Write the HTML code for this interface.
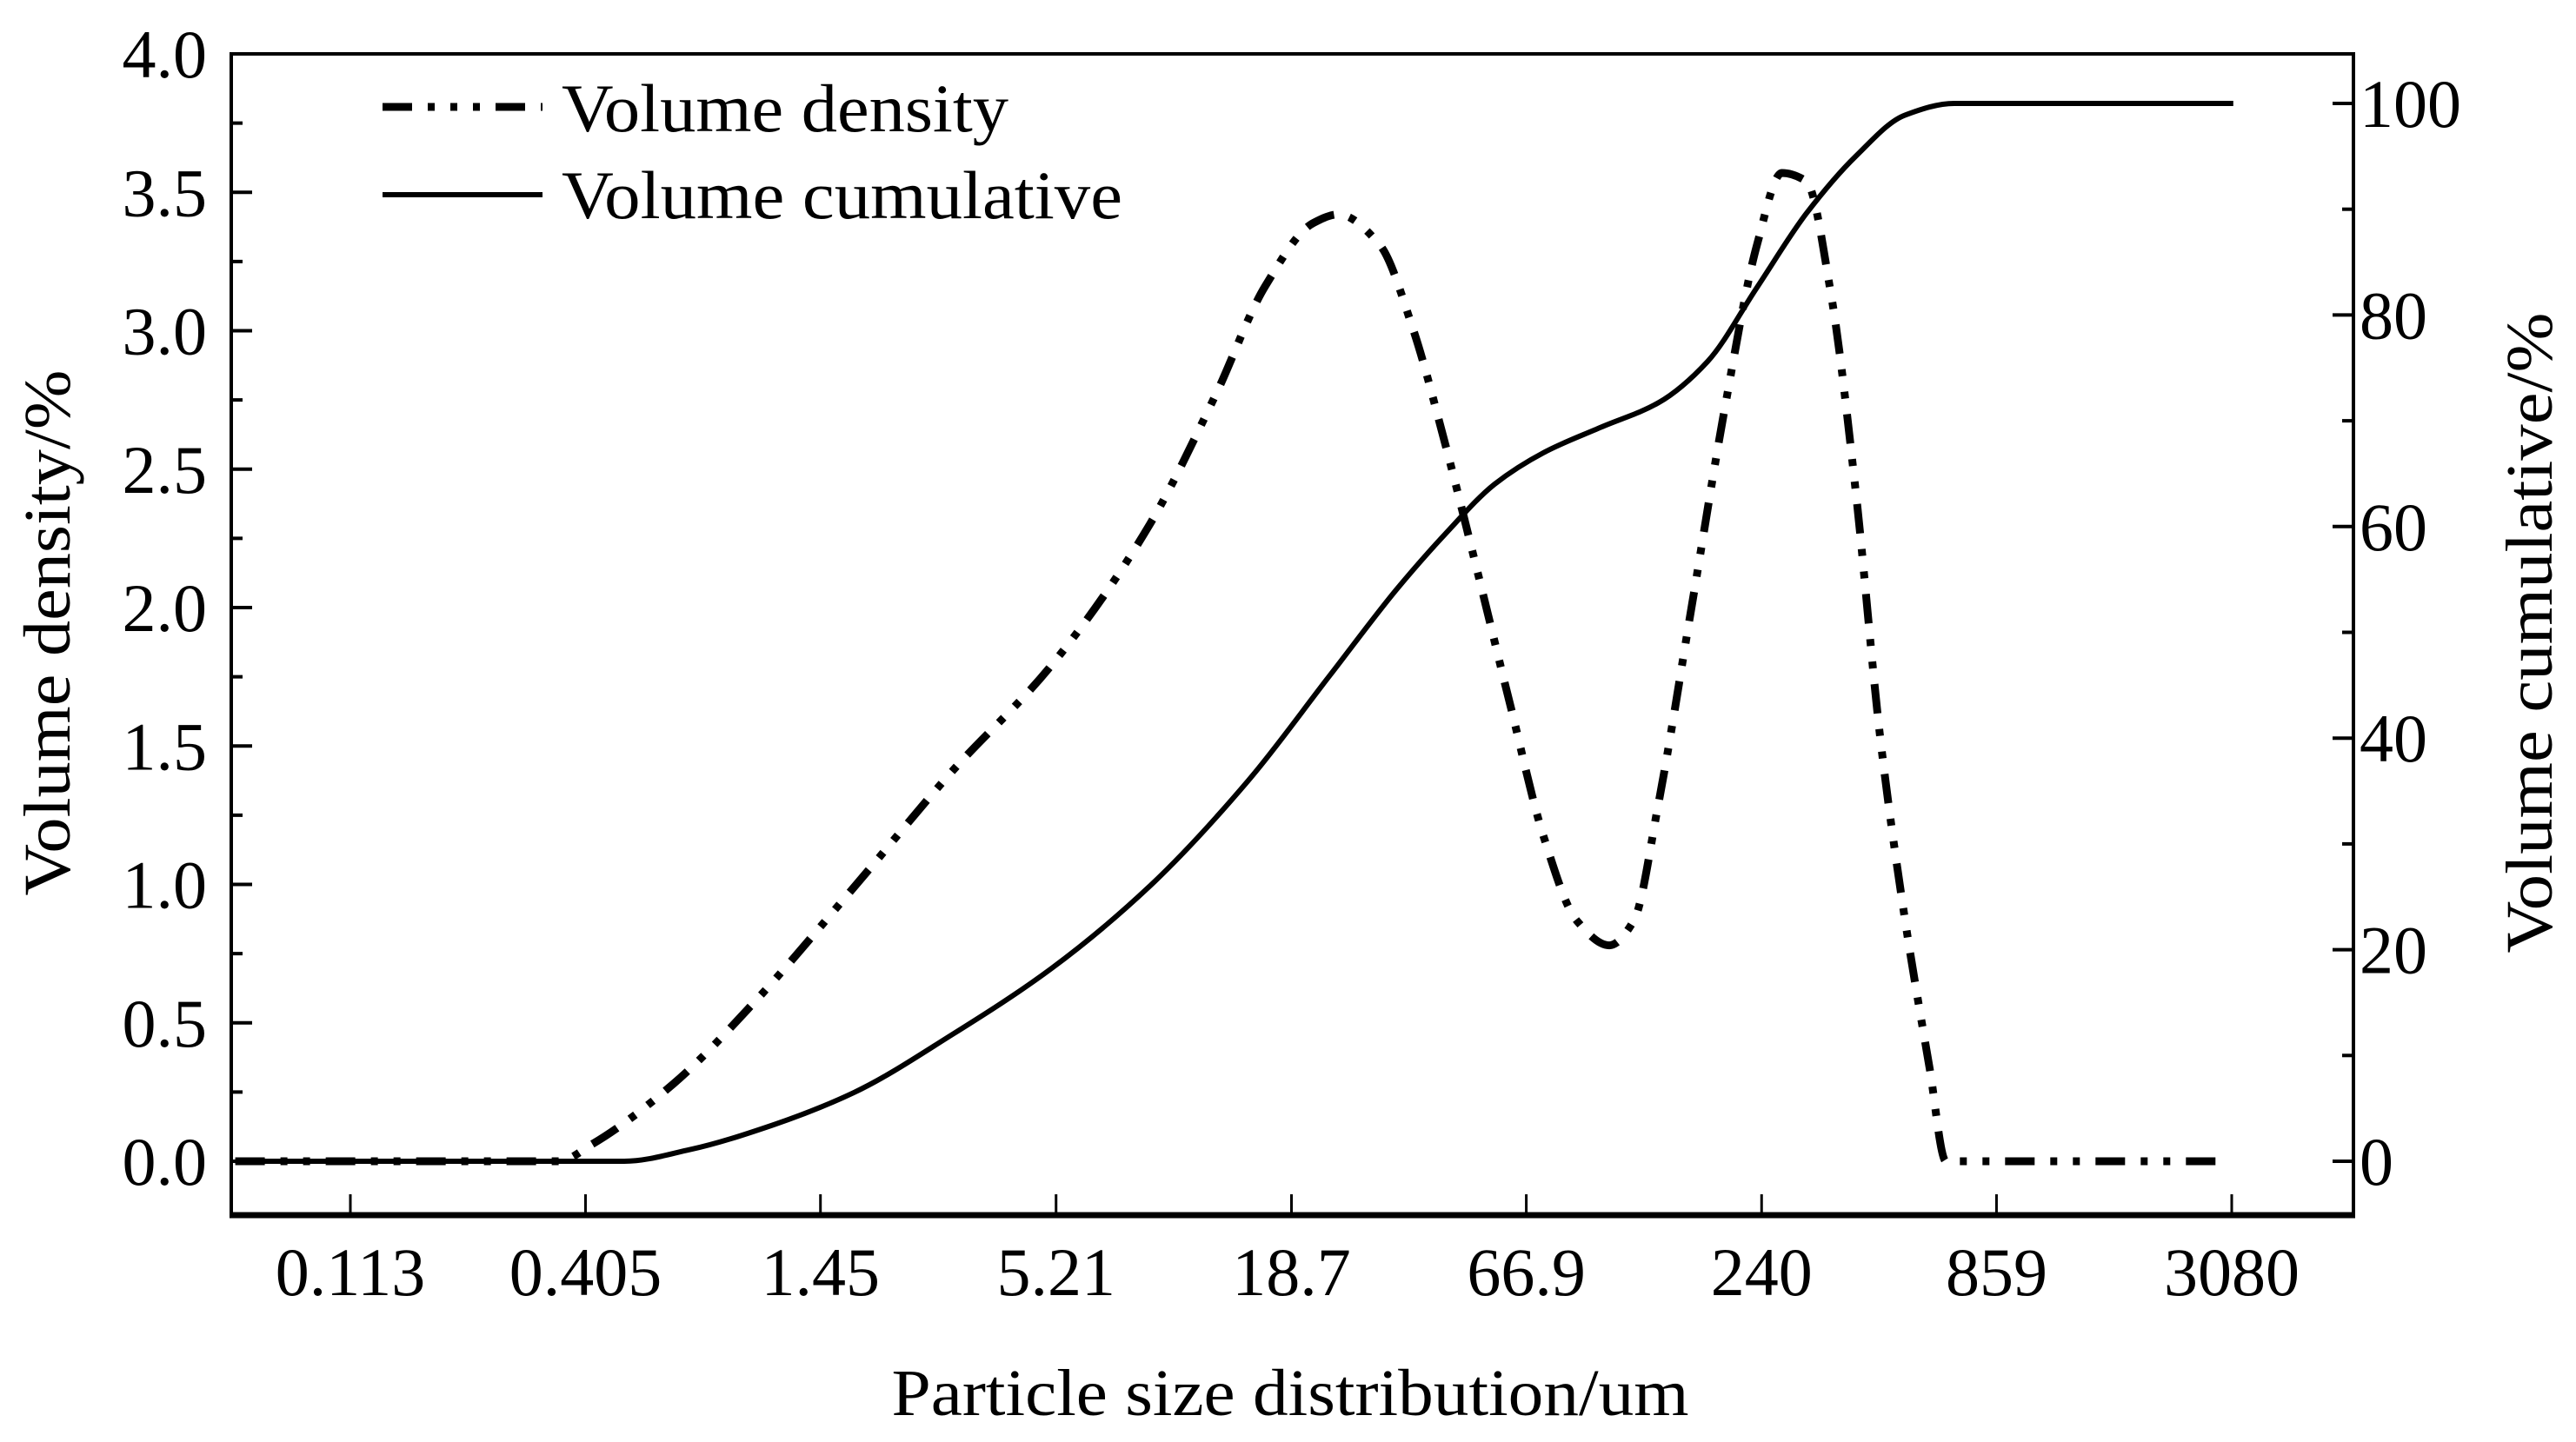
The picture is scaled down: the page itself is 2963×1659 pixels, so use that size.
<!DOCTYPE html>
<html><head><meta charset="utf-8">
<style>
html,body{margin:0;padding:0;background:#fff;}
svg{display:block;}
text{font-family:"Liberation Serif","Times New Roman",serif;fill:#000;}
</style></head>
<body>
<svg id="chart" width="2963" height="1659" viewBox="0 0 2963 1659" xmlns="http://www.w3.org/2000/svg">
<g id="axes"></g>
<g id="series"></g>
<g id="legend">
  <line x1="440" y1="123" x2="624" y2="123" stroke="#000" stroke-width="9" stroke-dasharray="34 18 8 18 8 18 8 18" />
  <text x="646" y="151" font-size="78" textLength="514" lengthAdjust="spacingAndGlyphs">Volume density</text>
  <line x1="440" y1="224" x2="624" y2="224" stroke="#000" stroke-width="6" />
  <text x="646" y="251" font-size="78" textLength="645" lengthAdjust="spacingAndGlyphs">Volume cumulative</text>
</g>
<text x="1484" y="1628" font-size="76" text-anchor="middle" textLength="917" lengthAdjust="spacingAndGlyphs">Particle size distribution/um</text>
<text transform="translate(80,728) rotate(-90)" font-size="76" text-anchor="middle" textLength="605" lengthAdjust="spacingAndGlyphs">Volume density/%</text>
<text transform="translate(2935,728) rotate(-90)" font-size="76" text-anchor="middle" textLength="737" lengthAdjust="spacingAndGlyphs">Volume cumulative/%</text>
</svg>
<script>
const xTickLabels = ["0.113","0.405","1.45","5.21","18.7","66.9","240","859","3080"];
const xTickValues = [0.113,0.405,1.45,5.21,18.7,66.9,240,859,3080];
const yLeftTicks = [0,0.5,1,1.5,2,2.5,3,3.5,4];
const yLeftTickLabels = ["0.0","0.5","1.0","1.5","2.0","2.5","3.0","3.5","4.0"];
const yRightTicks = [0,20,40,60,80,100];
const yRightTickLabels = ["0","20","40","60","80","100"];

const densitySizes = [0.0605,0.350,0.418,0.653,1.02,1.74,2.97,5.07,8.66,12.4,16.2,21.1,24.1,30.2,36.1,43.1,51.5,61.5,73.6,87.9,105,120,137,164,196,234,268,306,350,400,457,523,597,653,3025];
const densityValues = [0,0,0.06,0.28,0.58,0.99,1.41,1.79,2.30,2.77,3.16,3.39,3.42,3.31,3.01,2.59,2.12,1.64,1.17,0.87,0.78,0.87,1.29,2.00,2.71,3.31,3.57,3.54,3.13,2.42,1.53,0.87,0.34,0,0];
const cumSizes = [0.0605,0.500,0.714,1.115,1.74,2.97,5.07,8.66,14.8,23.1,33.0,43.1,56.3,73.6,100.5,137,179,234,306,400,523,683,3107];
const cumValues = [0,0,1.1,3.4,6.5,12,18.2,26,36,46,54,59.3,64,67,69.4,71.7,75.6,82.6,89.6,95,98.9,100,100];

const PL=266, PR=2707, PT=62, PB=1398;
const X0=403, XSTEP=270.5, XBASE=0.113, XRATIO=Math.pow(3080/0.113,1/8);
function xScale(v){return X0+XSTEP*Math.log(v/XBASE)/Math.log(XRATIO);}
function yLeft(v){return 1336-(1336-62)*v/4;}
function yRight(v){return 1336-(1336-119)*v/100;}
const NS="http://www.w3.org/2000/svg";
function mk(tag,attrs,parent){const e=document.createElementNS(NS,tag);for(const k in attrs)e.setAttribute(k,attrs[k]);parent.appendChild(e);return e;}

const axes=document.getElementById('axes');
const frame=mk('rect',{x:PL,y:PT,width:PR-PL,height:PB-PT,fill:'none',stroke:'#000','stroke-width':4},axes);


const bottom=mk('line',{x1:PL-2,y1:PB,x2:PR+2,y2:PB,stroke:'#000','stroke-width':7},axes);



xTickValues.forEach((v,i)=>{
  const x=xScale(v);
  const t=mk('line',{x1:x,y1:PB,x2:x,y2:PB-24,stroke:'#000','stroke-width':3},axes);
  
  
  const l=mk('text',{x:x,y:1490,'font-size':78,'text-anchor':'middle'},axes);
  
  
  l.textContent=xTickLabels[i];
});
yLeftTicks.forEach((v,i)=>{
  const y=yLeft(v);
  const t=mk('line',{x1:PL,y1:y,x2:PL+24,y2:y,stroke:'#000','stroke-width':4},axes);
  
  
  if(i<yLeftTicks.length-1){
    const m=mk('line',{x1:PL,y1:yLeft(v+0.25),x2:PL+13,y2:yLeft(v+0.25),stroke:'#000','stroke-width':4},axes);
    
    
  }
  const l=mk('text',{x:238,y:y+27,'font-size':78,'text-anchor':'end'},axes);
  
  
  l.textContent=yLeftTickLabels[i];
});
yRightTicks.forEach((v,i)=>{
  const y=yRight(v);
  const t=mk('line',{x1:PR,y1:y,x2:PR-24,y2:y,stroke:'#000','stroke-width':4},axes);
  
  
  if(i<yRightTicks.length-1){
    const m=mk('line',{x1:PR,y1:yRight(v+10),x2:PR-13,y2:yRight(v+10),stroke:'#000','stroke-width':4},axes);
    
    
  }
  const l=mk('text',{x:2714,y:y+27,'font-size':78,'text-anchor':'start'},axes);
  
  
  l.textContent=yRightTickLabels[i];
});

// monotone cubic (Fritsch-Carlson) in screen coords
function monoPath(pts){
  const n=pts.length, dx=[], m=[], t=new Array(n);
  for(let i=0;i<n-1;i++){dx.push(pts[i+1][0]-pts[i][0]);m.push((pts[i+1][1]-pts[i][1])/dx[i]);}
  t[0]=m[0]; t[n-1]=m[n-2];
  for(let i=1;i<n-1;i++){
    if(m[i-1]*m[i]<=0) t[i]=0;
    else { const w1=2*dx[i]+dx[i-1], w2=dx[i]+2*dx[i-1]; t[i]=(w1+w2)/(w1/m[i-1]+w2/m[i]); }
  }
  let d='M'+pts[0][0].toFixed(1)+','+pts[0][1].toFixed(1);
  for(let i=0;i<n-1;i++){
    const h=dx[i]/3;
    d+=' C'+(pts[i][0]+h).toFixed(1)+','+(pts[i][1]+t[i]*h).toFixed(1)+' '+(pts[i+1][0]-h).toFixed(1)+','+(pts[i+1][1]-t[i+1]*h).toFixed(1)+' '+pts[i+1][0].toFixed(1)+','+pts[i+1][1].toFixed(1);
  }
  return d;
}
const series=document.getElementById('series');
const cumPts=cumSizes.map((s,i)=>[xScale(s),yRight(cumValues[i])]);
const cum=mk('path',{d:monoPath(cumPts),fill:'none',stroke:'#000','stroke-width':6,'stroke-linejoin':'round'},series);


const denPts=densitySizes.map((s,i)=>[xScale(s),yLeft(densityValues[i])]);
const den=mk('path',{d:monoPath(denPts),fill:'none',stroke:'#000','stroke-width':9,'stroke-dasharray':'34 18 8 18 8 18'},series);


</script>
</body></html>
